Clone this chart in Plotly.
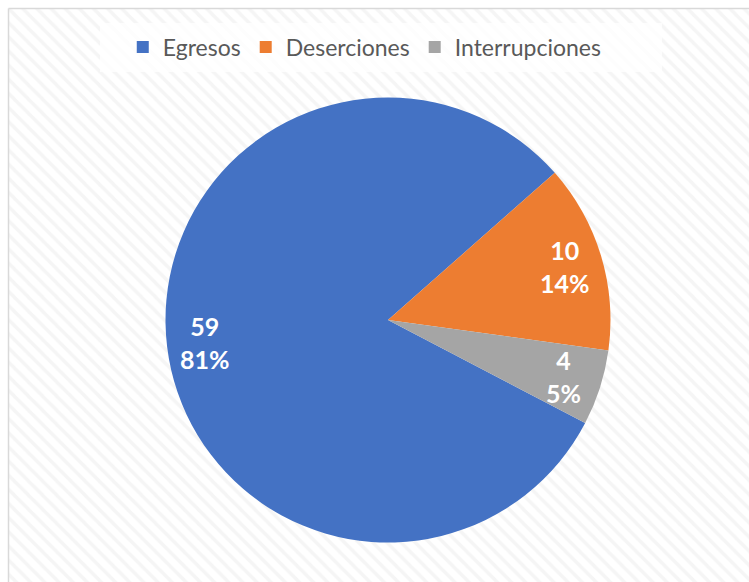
import math
import plotly.graph_objects as go

# Data
categories = ["Egresos", "Deserciones", "Interrupciones"]
values = [59, 10, 4]
colors = ["#4472C4", "#ED7D31", "#A5A5A5"]

W, H = 749, 582
CX, CY, R = 388, 320, 222.5          # pie centre / radius in px
ROTATION = 117.6                      # start angle of first slice, clockwise from 12 o'clock
LABEL_FRAC = 0.83                     # radial position of the data labels

fig = go.Figure()

# Striped chart-area background drawn as a patterned fill on hidden axes
fig.add_trace(go.Scatter(
    x=[8.5, W + 5, W + 5, 8.5, 8.5],
    y=[8.5, 8.5, H + 5, H + 5, 8.5],
    mode="lines", fill="toself",
    line=dict(color="#d9d9d9", width=1.5),
    fillcolor="white",
    fillpattern=dict(shape="\\", size=10, solidity=0.35,
                     fgcolor="#ececec", bgcolor="white"),
    hoverinfo="skip", showlegend=False,
))

fig.add_trace(go.Pie(
    labels=categories, values=values,
    marker=dict(colors=colors, line=dict(width=0)),
    sort=False, direction="clockwise", rotation=ROTATION,
    textinfo="none", hoverinfo="label+value+percent",
    domain=dict(x=[(CX - R) / W, (CX + R) / W],
                y=[1 - (CY + R) / H, 1 - (CY - R) / H]),
    showlegend=True,
))

# Data labels (value + percentage) placed along each slice's mid angle
total = sum(values)
annotations = []
cum = 0
for v in values:
    mid = math.radians(ROTATION + 360 * (cum + v / 2) / total)
    cum += v
    px = CX + R * LABEL_FRAC * math.sin(mid)
    py = CY - R * LABEL_FRAC * math.cos(mid)
    pct = round(100 * v / total)
    annotations.append(dict(
        x=px, y=py, xref="x", yref="y",
        text=f"<b>{v}</b><br><b>{pct}%</b>", showarrow=False,
        font=dict(family="Lato", size=25, color="white"),
        align="center",
    ))

fig.update_layout(
    width=W, height=H,
    margin=dict(l=0, r=0, t=0, b=0),
    paper_bgcolor="white", plot_bgcolor="white",
    xaxis=dict(range=[0, W], visible=False, fixedrange=True, domain=[0, 1]),
    yaxis=dict(range=[H, 0], visible=False, fixedrange=True, domain=[0, 1]),
    shapes=[dict(type="rect", xref="x", yref="y", x0=100, x1=662, y0=23, y1=72,
                 fillcolor="rgba(255,255,255,0.75)", line=dict(width=0),
                 layer="above")],
    annotations=annotations,
    legend=dict(orientation="h", x=0.487, xanchor="center",
                y=1 - 47 / H, yanchor="middle",
                bgcolor="rgba(0,0,0,0)",
                font=dict(family="Lato", size=23, color="#595959"),
                itemclick=False),
    showlegend=True,
)

fig.write_html("out.html")
